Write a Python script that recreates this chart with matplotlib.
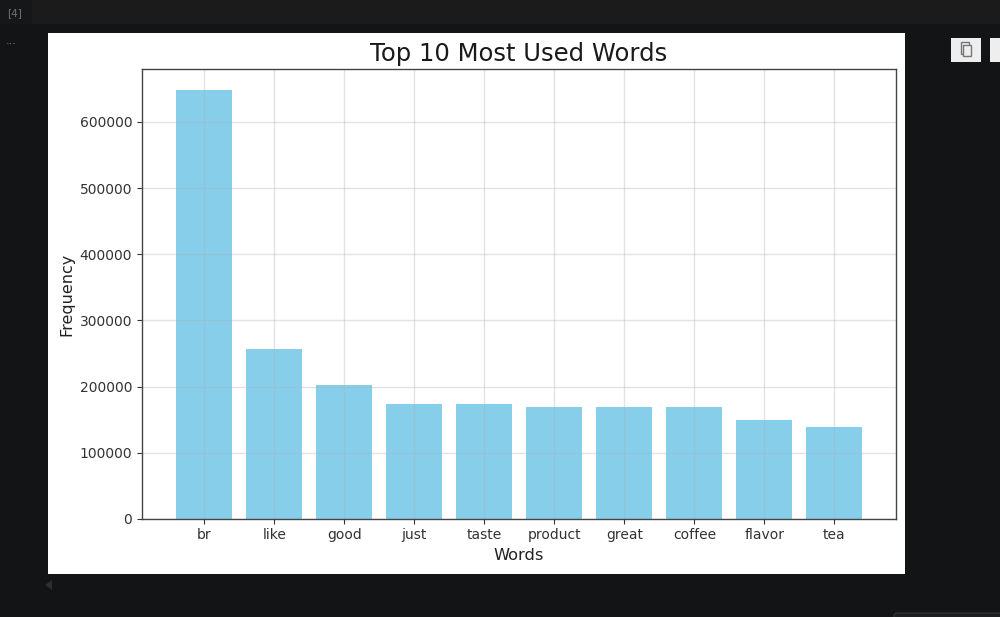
"""Top words bar chart inside a dark notebook cell."""
import matplotlib
import matplotlib.pyplot as plt
from matplotlib.patches import FancyBboxPatch, Polygon, Rectangle

matplotlib.use("Agg")

words = ["br", "like", "good", "just", "taste", "product", "great", "coffee", "flavor", "tea"]
counts = [648000, 257000, 202000, 174000, 174000, 169000, 169000, 169000, 149000, 139000]
yticks = [0, 100000, 200000, 300000, 400000, 500000, 600000]

W, H = 1000, 617


def box(x0, y0, x1, y1):
    # pixel box, y measured from the top, to figure fractions
    return [x0 / W, 1 - y1 / H, (x1 - x0) / W, (y1 - y0) / H]


fig = plt.figure(figsize=(W / 100, H / 100), dpi=100, facecolor="#121416")

# notebook chrome, in pixel coordinates
bg = fig.add_axes([0, 0, 1, 1])
bg.set_xlim(0, W)
bg.set_ylim(H, 0)
bg.axis("off")
bg.add_patch(Rectangle((0, 0), W, 24, color="#1b1b1c", lw=0))
bg.add_patch(Rectangle((0, 0), 32, 24, color="#161718", lw=0))
bg.add_patch(Rectangle((48, 33), 857, 541, color="white", lw=0))
bg.add_patch(Rectangle((951, 38), 30, 24, color="#eeeeee", lw=0))
bg.add_patch(Rectangle((990, 38), 10, 24, color="#eeeeee", lw=0))
bg.add_patch(Rectangle((961, 42), 8, 12, fc="none", ec="#777777", lw=1))
bg.add_patch(Rectangle((963, 45), 8, 11, fc="#eeeeee", ec="#777777", lw=1))
bg.add_patch(Polygon([(45, 585), (52, 580), (52, 590)], color="#2c2e30", lw=0))
bg.add_patch(FancyBboxPatch((894, 613), 120, 10, boxstyle="round,pad=0,rounding_size=3",
                            fc="#1d1f21", ec="#333537", lw=0.8))
bg.text(15, 13.5, "[4]", color="#6f7072", fontsize=7.5, ha="center", va="center")
bg.text(11.5, 41, "...", color="#8a8b8c", fontsize=8, ha="center", va="center")

ax = fig.add_axes(box(142, 69, 896, 519))
ax.bar(words, counts, color="skyblue", width=0.8)
ax.set_xlim(-0.89, 9.88)
ax.set_ylim(0, 680000)
ax.set_yticks(yticks)
ax.set_title("Top 10 Most Used Words", fontsize=17.5, pad=5.5, color="#1a1a1a")
ax.set_xlabel("Words", fontsize=11.7, labelpad=4, color="#222222")
ax.set_ylabel("Frequency", fontsize=11.5, labelpad=4, color="#222222")
ax.tick_params(labelsize=10, colors="#333333")
ax.tick_params(axis="x", pad=3.2)
ax.grid(True, color="#b0b0b0", alpha=0.35, lw=1)
for spine in ax.spines.values():
    spine.set_color("#444444")
    spine.set_linewidth(1.0)

fig.savefig("out.png", dpi=100, facecolor=fig.get_facecolor())
